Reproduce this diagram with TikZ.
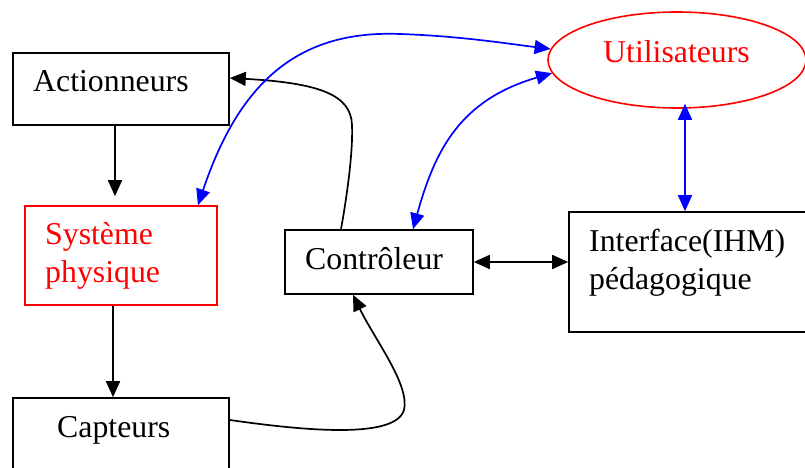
\documentclass[tikz,border=0pt]{standalone}
\usepackage{fontspec}
\setmainfont{Liberation Serif}
\usetikzlibrary{arrows.meta,shapes.geometric}
\begin{document}
\begin{tikzpicture}[x=1pt,y=-1pt,
  box/.style={draw=black, line width=1.6pt, rectangle, inner sep=0pt},
  redbox/.style={box, draw=red},
  oval/.style={draw=red, line width=1.6pt, ellipse, inner sep=0pt},
  lbl/.style={anchor=base west, inner sep=0pt, align=left,
    font=\fontsize{31.8}{37.5}\selectfont},
  flow/.style={line width=1.7pt, -{Triangle[length=16pt,width=14pt]}},
  both/.style={line width=1.7pt, {Triangle[length=16pt,width=14pt]}-{Triangle[length=16pt,width=14pt]}},
  blueboth/.style={both, color=blue}
]
\useasboundingbox (0,0) rectangle (805,468);

% blocks
\node[box, minimum width=216pt, minimum height=72pt] (act) at (121,89) {};
\node[redbox, minimum width=192pt, minimum height=99pt] (sys) at (121,255.5) {};
\node[box, minimum width=216pt, minimum height=82pt] (cap) at (121,439) {};
\node[box, minimum width=188pt, minimum height=64pt] (ctl) at (379,262) {};
\node[box, minimum width=241pt, minimum height=120pt] (ifc) at (689.5,272) {};
\node[oval, minimum width=258pt, minimum height=96pt] (usr) at (677,60) {};

% labels (base anchor sits on the last line)
\node[lbl] (actT) at (33,92) {Actionneurs};
\node[lbl, text=red] (sysT) at (45,282) {Système\\physique};
\node[lbl] (capT) at (57,437) {Capteurs};
\node[lbl] (ctlT) at (305,269) {Contrôleur};
\node[lbl] (ifcT) at (589,289) {Interface(IHM)\\pédagogique};
\node[lbl, text=red] (usrT) at (603,63) {Utilisateurs};

% signal chain
\draw[flow] ([xshift=-6pt]act.south) -- ([xshift=-6pt,yshift=9pt]sys.north);
\draw[flow] ([xshift=-8pt]sys.south) -- ([xshift=-8pt]cap.north);
\draw[flow] ([xshift=-38pt]ctl.north)
  .. controls (348,190) and (353,150) .. (352,125)
  .. controls (351,95) and (320,83) .. ([yshift=11pt]act.east);
\draw[flow] ([yshift=19pt]cap.east)
  .. controls (300,430) and (395,440) .. (404,410)
  .. controls (410,385) and (375,340) .. ([xshift=-26pt]ctl.south);
\draw[both] (ctl.east) -- (ctl.east -| ifc.west);

% user interactions
\draw[blueboth] ([xshift=77pt]sys.north)
  .. controls (240,80) and (300,30) .. (400,34)
  .. controls (460,36) and (510,44) .. (usr.175.5);
\draw[blueboth] ([xshift=34pt]ctl.north)
  .. controls (435,150) and (460,100) .. (usr.186);
\draw[blueboth] ([xshift=8pt,yshift=5pt]usr.south) -- ([xshift=-4.5pt]ifc.north);
\end{tikzpicture}
\end{document}
